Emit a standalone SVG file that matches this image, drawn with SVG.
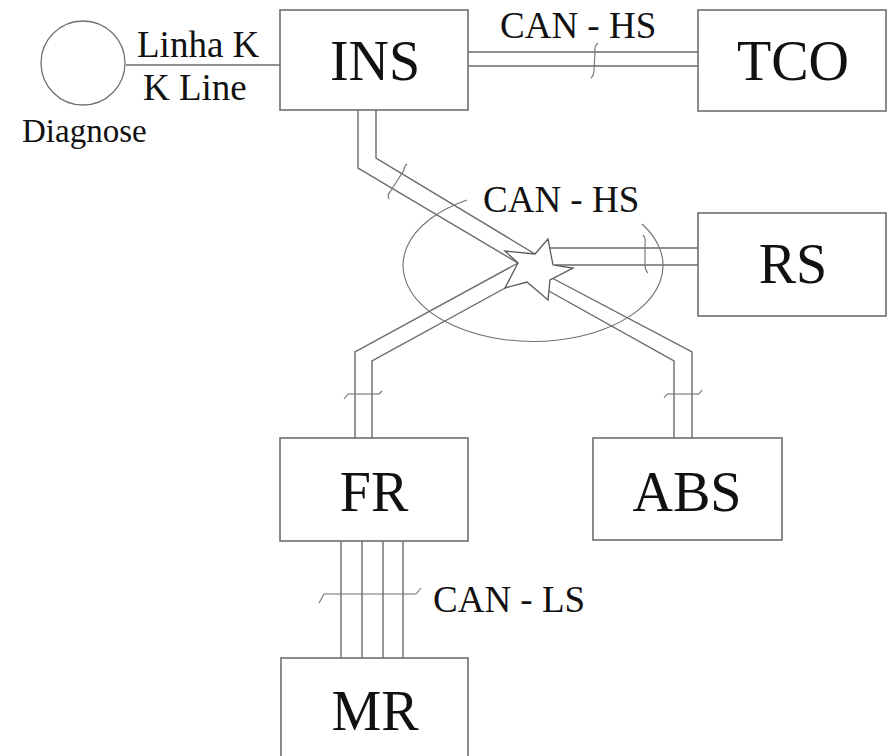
<svg xmlns="http://www.w3.org/2000/svg" width="888" height="756" viewBox="0 0 888 756">
<style>
.box{fill:#fff;stroke:#6e6e6e;stroke-width:1.6}
.ln{fill:none;stroke:#6a6a6a;stroke-width:1.4}
.thin{fill:none;stroke:#707070;stroke-width:1.1}
.bt{font-family:'Liberation Serif','DejaVu Serif',serif;font-size:56px;fill:#111;text-anchor:middle}
.lb{font-family:'Liberation Serif','DejaVu Serif',serif;font-size:37px;fill:#111}
</style>
<rect width="888" height="756" fill="#fff"/>
<g id="connectors">
  <line class="ln" x1="126" y1="65" x2="280" y2="65"/>
  <line class="ln" x1="468" y1="52" x2="698" y2="52"/>
  <line class="ln" x1="468" y1="66" x2="698" y2="66"/>
  <path class="thin" d="M598 43 q-4 3 -3 9 l-1 18 q0 5 -3 8"/>
  <polyline class="ln" points="358,110 358,168 518,263"/>
  <polyline class="ln" points="376,110 376,158 535,254"/>
  <path class="thin" d="M407 164 q-3 2 -3 6 l-14 22 q-3 3 -1 7"/>
  <line class="ln" x1="550" y1="248" x2="698" y2="248"/>
  <line class="ln" x1="555" y1="265" x2="698" y2="265"/>
  <path class="thin" d="M643 235 q3 3 2 8 l0 22 q0 5 3 8"/>
  <polyline class="ln" points="518,263 355,352 355,438"/>
  <polyline class="ln" points="507,287 372,361 372,438"/>
  <line class="thin" x1="348" y1="394" x2="379" y2="394"/>
  <line class="thin" x1="344" y1="399" x2="348" y2="394"/>
  <line class="thin" x1="379" y1="394" x2="382" y2="391"/>
  <polyline class="ln" points="552,278 692,352 692,438"/>
  <polyline class="ln" points="547,290 674,361 674,438"/>
  <line class="thin" x1="667" y1="394" x2="699" y2="394"/>
  <line class="thin" x1="664" y1="398" x2="667" y2="394"/>
  <line class="thin" x1="699" y1="394" x2="702" y2="390"/>
  <line class="ln" x1="341" y1="541" x2="341" y2="658"/>
  <line class="ln" x1="362" y1="541" x2="362" y2="658"/>
  <line class="ln" x1="383" y1="541" x2="383" y2="658"/>
  <line class="ln" x1="403" y1="541" x2="403" y2="658"/>
  <line class="thin" x1="324" y1="594" x2="416" y2="594"/>
  <line class="thin" x1="319" y1="603" x2="324" y2="594"/>
  <line class="thin" x1="416" y1="594" x2="421" y2="588"/>
  <path class="thin" d="M642 224 A130 76 0 1 1 467 200"/>
  <polygon fill="#fff" stroke="#5a5a5a" stroke-width="1.3" points="548,239 553,265 573,268 550,280 548,300 527,282 505,288 518,263 505,251 535,254"/>
</g>
<g id="diagnose">
  <circle cx="83" cy="63" r="42" fill="#fff" stroke="#707070" stroke-width="1.3"/>
  <text class="lb" x="22" y="142" style="font-size:33px">Diagnose</text>
</g>
<g id="kline-label">
  <text class="lb" x="137" y="57">Linha K</text>
  <text class="lb" x="143" y="100">K Line</text>
</g>
<g id="INS">
  <rect class="box" x="280" y="10" width="188" height="100"/>
  <text class="bt" x="375" y="80">INS</text>
</g>
<g id="TCO">
  <rect class="box" x="698" y="10" width="188" height="101"/>
  <text class="bt" x="793" y="80">TCO</text>
</g>
<g id="RS">
  <rect class="box" x="698" y="213" width="188" height="103"/>
  <text class="bt" x="793" y="283">RS</text>
</g>
<g id="FR">
  <rect class="box" x="280" y="438" width="188" height="103"/>
  <text class="bt" x="374" y="511">FR</text>
</g>
<g id="ABS">
  <rect class="box" x="593" y="438" width="189" height="102"/>
  <text class="bt" x="687" y="511">ABS</text>
</g>
<g id="MR">
  <rect class="box" x="281" y="658" width="187" height="110"/>
  <text class="bt" x="375" y="730">MR</text>
</g>
<g id="labels">
  <text class="lb" x="500" y="38">CAN - HS</text>
  <text class="lb" x="483" y="212">CAN - HS</text>
  <text class="lb" x="433" y="612">CAN - LS</text>
</g>
</svg>
